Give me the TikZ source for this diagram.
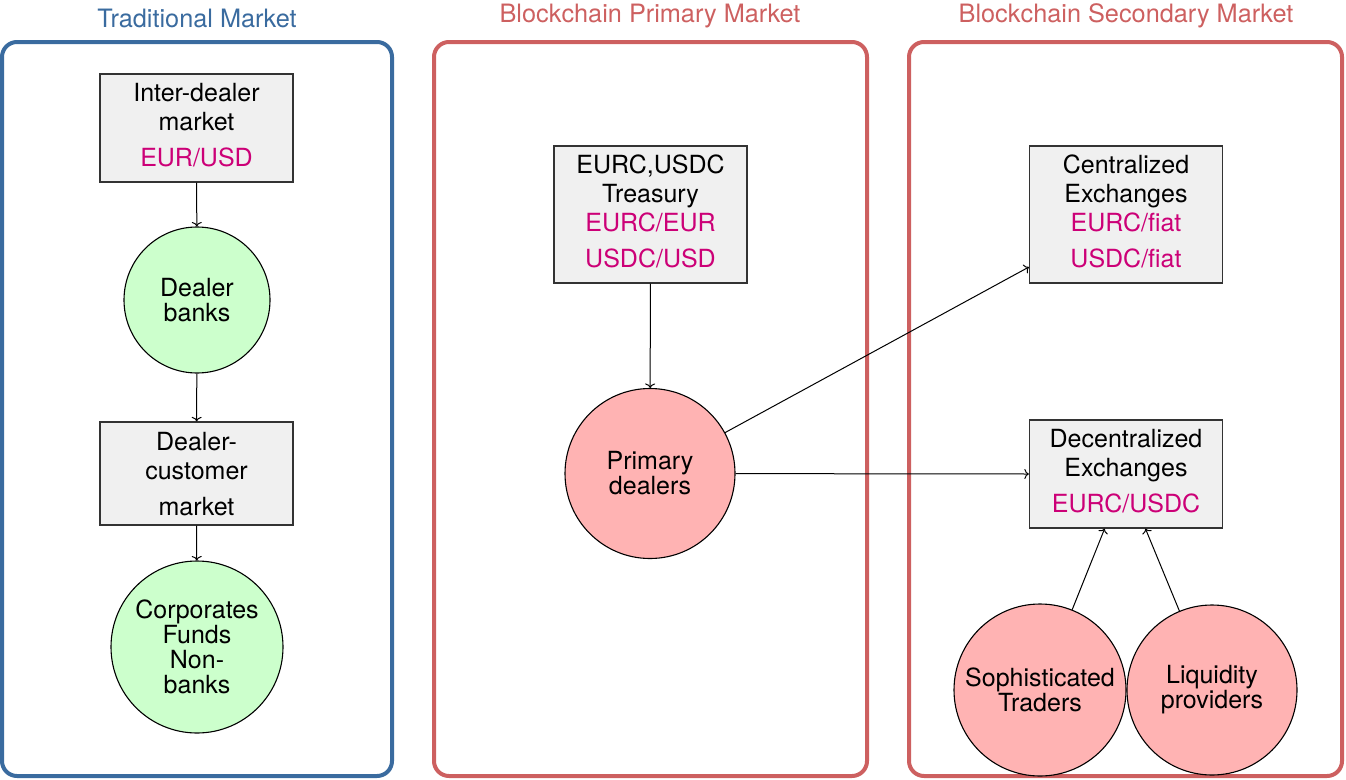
\documentclass[tikz,border=0pt]{standalone}
\usepackage{fontspec}
\setmainfont{TeX Gyre Heros}
\usetikzlibrary{calc,arrows.meta}
\definecolor{frameblue}{RGB}{58,107,159}
\definecolor{framered}{RGB}{205,96,96}
\definecolor{mag}{RGB}{204,0,119}
\definecolor{boxfill}{RGB}{240,240,240}
\definecolor{greenfill}{RGB}{204,255,204}
\definecolor{pinkfill}{RGB}{255,179,179}
\newcommand{\bxtext}[1]{\begin{tabular}{@{}c@{}}#1\end{tabular}}
\begin{document}
\begin{tikzpicture}[x=1pt,y=-1pt,
 frameb/.style={draw=frameblue, line width=4pt, rounded corners=15pt},
 framer/.style={draw=framered, line width=4pt, rounded corners=15pt},
 title/.style={font=\fontsize{25.3}{27}\selectfont, anchor=center, inner sep=0pt},
 box/.style={draw=black!80, fill=boxfill, line width=1.3pt, minimum width=193pt, inner sep=0pt, font=\fontsize{25}{29}\selectfont},
 gcirc/.style={circle, draw=black, fill=greenfill, line width=1.1pt, inner sep=0pt, align=center, font=\fontsize{25}{25}\selectfont},
 pcirc/.style={circle, draw=black, fill=pinkfill, line width=1.1pt, inner sep=0pt, align=center, font=\fontsize{25}{25}\selectfont},
 arr/.style={-{To[length=4.5pt,width=10pt]}, line width=1pt}
]
\useasboundingbox (0,0) rectangle (1346,779);
% frames
\draw[frameb] (2,42) rectangle (392,776);
\draw[framer] (434,42) rectangle (867,776);
\draw[framer] (909,42) rectangle (1342,776);
\node[title, text=frameblue] (t1) at (197,18) {Traditional Market};
\node[title, text=framered] (t2) at (650,16) {Blockchain Primary Market};
\node[title, text=framered] (t3) at (1126,16) {Blockchain Secondary Market};
% traditional
\node[box, minimum height=108pt] (idm) at (196.5,128) {\bxtext{Inter-dealer\\market\\[7pt]\textcolor{mag}{EUR/USD}}};
\node[gcirc, minimum size=146pt] (db) at (197,300) {Dealer\\banks};
\node[box, minimum height=103pt] (dcm) at (196.5,473.5) {\raisebox{-4pt}[\height][\depth]{\bxtext{Dealer-\\customer\\[7pt]market}}};
\node[gcirc, minimum size=172pt] (corp) at (197,647) {Corporates\\Funds\\Non-\\banks};
% primary
\node[box, minimum height=137pt] (tr) at (650.5,214.5) {\bxtext{EURC,USDC\\Treasury\\\textcolor{mag}{EURC/EUR}\\[7pt]\textcolor{mag}{USDC/USD}}};
\node[pcirc, minimum size=170pt] (pd) at (650,473.5) {Primary\\dealers};
% secondary
\node[box, minimum height=137pt] (ce) at (1126,214.5) {\bxtext{Centralized\\Exchanges\\\textcolor{mag}{EURC/fiat}\\[7pt]\textcolor{mag}{USDC/fiat}}};
\node[box, minimum height=108pt] (de) at (1126,474) {\bxtext{Decentralized\\Exchanges\\[7pt]\textcolor{mag}{EURC/USDC}}};
\node[pcirc, minimum size=172pt] (st) at (1040,690) {Sophisticated\\Traders};
\node[pcirc, minimum size=170pt] (lp) at (1212,690) {Liquidity\\providers};
% arrows
\draw[arr] (idm) -- (db);
\draw[arr] (db) -- (dcm);
\draw[arr] (dcm) -- (corp);
\draw[arr] (tr) -- (pd);
\coordinate (ceIn) at ($(ce.south west)!0.12!(ce.north west)$);
\coordinate (deIn1) at ($(de.south west)!0.39!(de.south east)$);
\coordinate (deIn2) at ($(de.south west)!0.6!(de.south east)$);
\draw[arr] (pd) -- (ceIn);
\draw[arr] (pd) -- (de.west);
\draw[arr] (st) -- (deIn1);
\draw[arr] (lp) -- (deIn2);
\end{tikzpicture}
\end{document}
